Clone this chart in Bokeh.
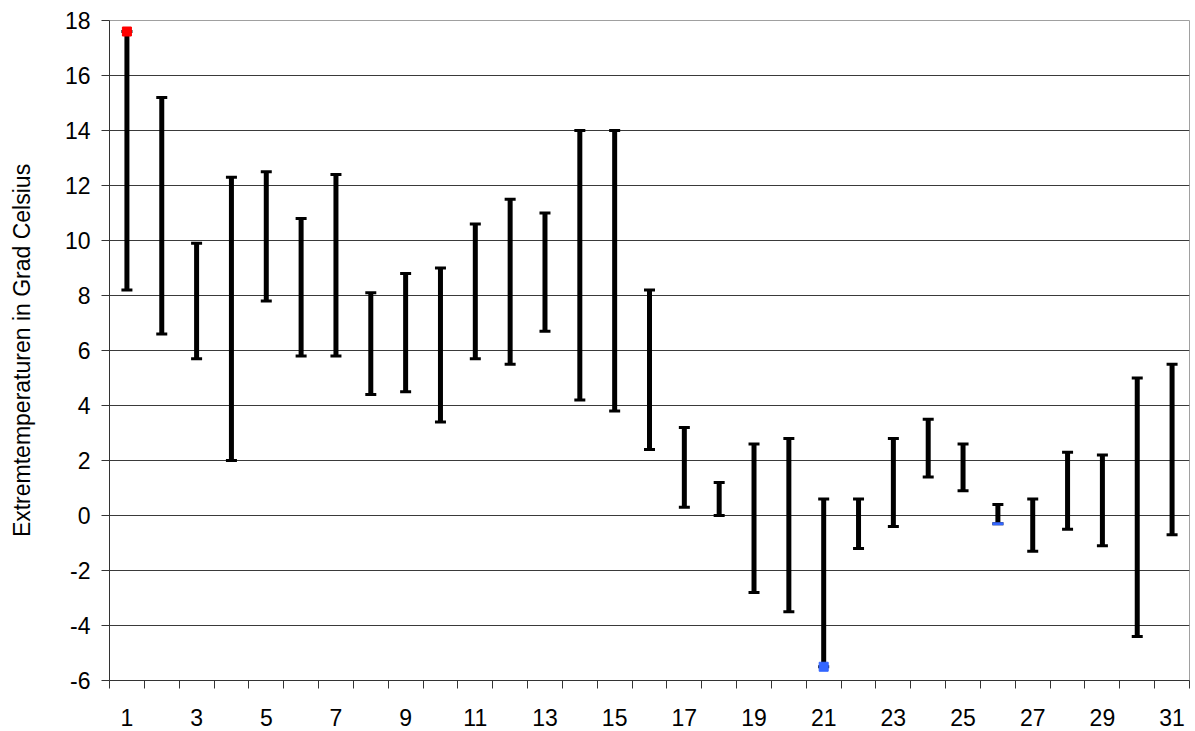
from bokeh.plotting import figure
from bokeh.models import FixedTicker, Range1d, ColumnDataSource, CustomJSTickFormatter
from bokeh.embed import file_html
from bokeh.resources import INLINE

days = list(range(1, 32))
highs = [17.6, 15.2, 9.9, 12.3, 12.5, 10.8, 12.4, 8.1, 8.8, 9.0, 10.6, 11.5, 11.0, 14.0, 14.0, 8.2,
         3.2, 1.2, 2.6, 2.8, 0.6, 0.6, 2.8, 3.5, 2.6, 0.4, 0.6, 2.3, 2.2, 5.0, 5.5]
lows = [8.2, 6.6, 5.7, 2.0, 7.8, 5.8, 5.8, 4.4, 4.5, 3.4, 5.7, 5.5, 6.7, 4.2, 3.8, 2.4,
        0.3, 0.0, -2.8, -3.5, -5.5, -1.2, -0.4, 1.4, 0.9, -0.3, -1.3, -0.5, -1.1, -4.4, -0.7]
x_labels = [str(d) for d in range(1, 32, 2)]
y_ticks = list(range(-6, 19, 2))

# highlighted extremes
max_day = [1]
max_val = [17.6]
min_day = [21]
min_val = [-5.5]
mark_day = [26]
mark_val = [-0.3]

src = ColumnDataSource(dict(x=days, hi=highs, lo=lows))

p = figure(width=1193, height=729, output_backend="svg", toolbar_location=None,
           x_range=Range1d(0.5, 31.5), y_range=Range1d(-6, 18),
           min_border_left=109, min_border_right=4, min_border_top=20, min_border_bottom=49)
p.frame_width = 1080
p.frame_height = 660

p.background_fill_color = "white"
p.border_fill_color = "white"
p.outline_line_color = "#a0a0a0"
p.outline_line_width = 1

p.xgrid.visible = False
p.ygrid.ticker = FixedTicker(ticks=list(range(-4, 17, 2)))
p.ygrid.grid_line_color = "#3a3a3a"
p.ygrid.grid_line_width = 1

font = "Liberation Sans"
fmt = CustomJSTickFormatter(code="return tick.toString();")

p.xaxis.ticker = FixedTicker(ticks=[int(v) for v in x_labels],
                             minor_ticks=[d - 0.5 for d in days] + [31.5])
p.xaxis.formatter = fmt
p.xaxis.major_tick_line_color = None
p.xaxis.minor_tick_out = 8
p.xaxis.minor_tick_in = 0
p.xaxis.minor_tick_line_color = "#333333"
p.xaxis.axis_line_color = "#333333"
p.xaxis.major_label_text_font = font
p.xaxis.major_label_text_font_size = "23px"
p.xaxis.major_label_text_color = "black"
p.xaxis.major_label_standoff = 20

p.yaxis.ticker = FixedTicker(ticks=y_ticks)
p.yaxis.formatter = fmt
p.yaxis.minor_tick_line_color = None
p.yaxis.major_tick_out = 8
p.yaxis.major_tick_in = 0
p.yaxis.major_tick_line_color = "#333333"
p.yaxis.axis_line_color = "#333333"
p.yaxis.major_label_text_font = font
p.yaxis.major_label_text_font_size = "23px"
p.yaxis.major_label_text_color = "black"
p.yaxis.major_label_standoff = 11
p.yaxis.axis_label = "Extremtemperaturen in Grad Celsius"
p.yaxis.axis_label_text_font = font
p.yaxis.axis_label_text_font_size = "23px"
p.yaxis.axis_label_text_font_style = "normal"
p.yaxis.axis_label_text_color = "black"
p.yaxis.axis_label_standoff = 27

p.segment(x0="x", y0="lo", x1="x", y1="hi", source=src, line_color="black", line_width=5)
p.dash(x="x", y="hi", source=src, size=11, line_width=3, line_color="black")
p.dash(x="x", y="lo", source=src, size=11, line_width=3, line_color="black")

p.dash(x=mark_day, y=mark_val, size=11, line_width=3, line_color="#3366ff")
p.scatter(x=max_day, y=max_val, marker="square", size=9, fill_color="#ff0000", line_color="#ff0000")
p.scatter(x=min_day, y=min_val, marker="square", size=9, fill_color="#3366ff", line_color="#3366ff")

open("out.html", "w").write(file_html(p, INLINE))
